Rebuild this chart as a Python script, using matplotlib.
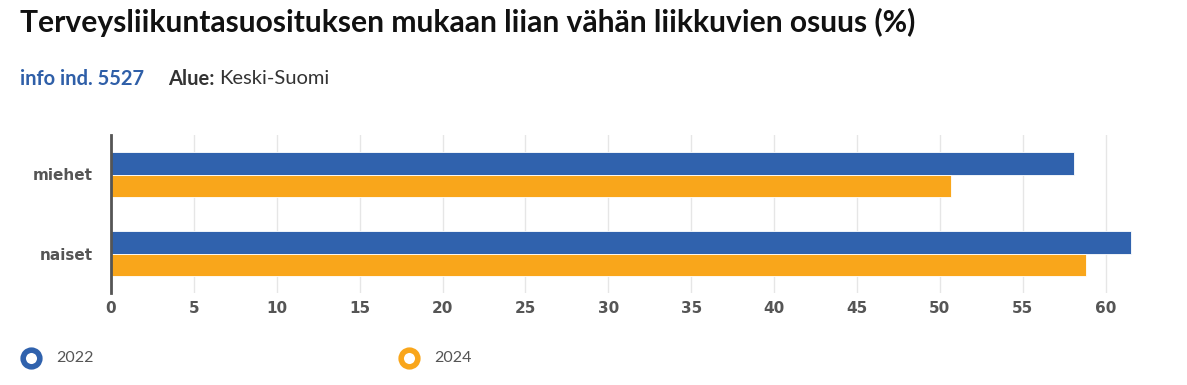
import matplotlib.pyplot as plt
import numpy as np

categories = ["miehet", "naiset"]
years = ["2022", "2024"]
values_2022 = [58.1, 61.5]
values_2024 = [50.7, 58.8]
xticks = list(range(0, 61, 5))

BLUE = "#3062ad"
ORANGE = "#f9a61b"

fig = plt.figure(figsize=(11.87, 3.85), dpi=100)
fig.patch.set_facecolor("white")

W, H = 1187, 385
# axes box in pixels: left 111, right 1133, top 135, bottom 293
ax = fig.add_axes([111 / W, 1 - 293 / H, (1133 - 111) / W, (293 - 135) / H])

y = np.arange(len(categories))
h = 0.28
ax.barh(y - h / 2, values_2022, height=h, color=BLUE, edgecolor="white", linewidth=0.6, zorder=3)
ax.barh(y + h / 2, values_2024, height=h, color=ORANGE, edgecolor="white", linewidth=0.6, zorder=3)

ax.set_ylim(1.5, -0.5)
ax.set_xlim(0, 61.65)
ax.set_yticks(y)
ax.set_yticklabels(categories)
ax.set_xticks(xticks)
ax.grid(axis="x", color="#e6e6e6", linewidth=1, zorder=0)
for s in ["top", "right", "bottom"]:
    ax.spines[s].set_visible(False)
ax.spines["left"].set_color("#555555")
ax.spines["left"].set_linewidth(2)
ax.spines["left"].set_zorder(4)
ax.tick_params(length=0, labelsize=11, labelcolor="#555555")
ax.tick_params(axis="x", pad=6)
ax.tick_params(axis="y", pad=13)
for lab in ax.get_xticklabels() + ax.get_yticklabels():
    lab.set_fontweight("bold")

fig.text(20 / W, 1 - 22 / H, "Terveysliikuntasuosituksen mukaan liian vähän liikkuvien osuus (%)",
         fontsize=21.6, fontweight="bold", family="Lato", color="#111111", va="center")
fig.text(20 / W, 1 - 79 / H, "info ind. 5527", fontsize=14.5, fontweight="bold",
         family="Lato", color="#2f5fa8", va="center")
fig.text(168 / W, 1 - 79 / H, "Alue:", fontsize=14.5, fontweight="bold",
         family="Lato", color="#333333", va="center")
fig.text(219 / W, 1 - 79 / H, "Keski-Suomi", fontsize=14.5,
         family="Lato", color="#333333", va="center")

# legend
for x0, col, lab in [(31, BLUE, years[0]), (409, ORANGE, years[1])]:
    fig.lines.append(plt.Line2D([x0 / W], [1 - 358 / H], marker="o", markersize=12,
                                markerfacecolor="white", markeredgecolor=col,
                                markeredgewidth=4, transform=fig.transFigure))
    fig.text((x0 + 25) / W, 1 - 358 / H, lab, fontsize=11.5, family="Lato",
             color="#555555", va="center")

fig.savefig("out.png", dpi=100, facecolor="white")
